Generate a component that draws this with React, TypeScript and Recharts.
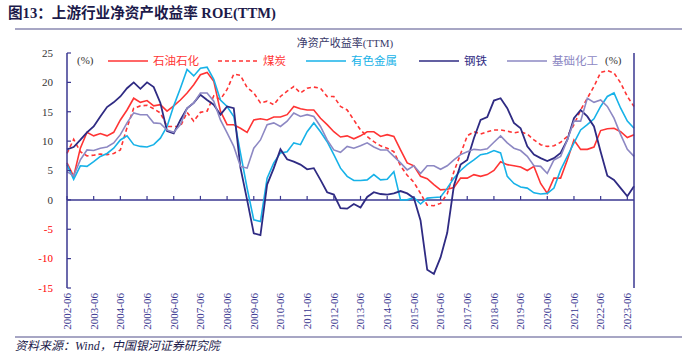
import React from 'react';
import { LineChart, Line, XAxis, YAxis, ReferenceLine } from 'recharts';

const dates = [
  '2002-06','2002-09','2002-12','2003-03','2003-06','2003-09','2003-12','2004-03','2004-06','2004-09',
  '2004-12','2005-03','2005-06','2005-09','2005-12','2006-03','2006-06','2006-09','2006-12','2007-03',
  '2007-06','2007-09','2007-12','2008-03','2008-06','2008-09','2008-12','2009-03','2009-06','2009-09',
  '2009-12','2010-03','2010-06','2010-09','2010-12','2011-03','2011-06','2011-09','2011-12','2012-03',
  '2012-06','2012-09','2012-12','2013-03','2013-06','2013-09','2013-12','2014-03','2014-06','2014-09',
  '2014-12','2015-03','2015-06','2015-09','2015-12','2016-03','2016-06','2016-09','2016-12','2017-03',
  '2017-06','2017-09','2017-12','2018-03','2018-06','2018-09','2018-12','2019-03','2019-06','2019-09',
  '2019-12','2020-03','2020-06','2020-09','2020-12','2021-03','2021-06','2021-09','2021-12','2022-03',
  '2022-06','2022-09','2022-12','2023-03','2023-06','2023-09',
];

const yearTicks = [
  '2002-06','2003-06','2004-06','2005-06','2006-06','2007-06','2008-06','2009-06','2010-06','2011-06',
  '2012-06','2013-06','2014-06','2015-06','2016-06','2017-06','2018-06','2019-06','2020-06','2021-06',
  '2022-06','2023-06',
];

const yTicks = [-15, -10, -5, 0, 5, 10, 15, 20, 25];

// 石油石化
const petrochem = [
  6.3, 4.0, 8.8, 11.5, 10.9, 11.3, 10.9, 11.5, 13.6, 15.3,
  17.3, 16.6, 16.9, 16.0, 16.2, 15.1, 16.0, 17.0, 18.2, 19.6,
  21.3, 21.7, 20.2, 15.1, 12.8, 12.8, 12.2, 11.5, 13.6, 13.8,
  13.6, 14.1, 14.1, 14.5, 15.9, 15.5, 15.3, 15.3, 13.9, 12.8,
  11.6, 10.7, 10.9, 10.4, 10.9, 11.6, 11.6, 10.8, 11.1, 10.8,
  8.5, 6.3, 5.8, 4.0, 3.6, 2.6, 1.7, 1.8, 2.1, 3.7,
  3.7, 4.3, 4.0, 4.3, 5.0, 6.5, 6.0, 5.8, 5.6, 5.0,
  5.7, 2.8, 1.1, 3.7, 3.7, 6.8, 10.2, 8.6, 8.6, 9.0,
  11.8, 12.1, 12.2, 11.6, 10.6, 11.1,
];

// 煤炭
const coal = [
  7.9, 10.3, 8.2, 7.5, 7.6, 7.8, 7.7, 7.9, 8.5, 12.3,
  15.6, 16.0, 16.1, 15.5, 14.8, 12.5, 12.5, 12.5, 14.9, 13.4,
  14.9, 15.1, 17.7, 17.1, 18.8, 21.4, 21.2, 19.1, 18.2, 16.5,
  16.8, 16.2, 17.6, 18.5, 19.3, 18.2, 19.0, 19.2, 19.0, 17.6,
  17.6, 15.9, 15.3, 13.6, 11.9, 10.8, 9.9, 9.2, 8.8, 8.2,
  5.8, 4.2, 3.0, 1.1, -0.9, -1.0, -0.6, 1.0, 4.8, 7.8,
  10.9, 11.6, 11.2, 11.6, 11.9, 11.9, 11.7, 11.4, 11.6, 11.2,
  10.2, 9.4, 9.1, 9.2, 9.8, 10.8, 12.8, 15.3, 17.3, 19.3,
  21.7, 22.0, 21.6, 19.9, 17.6, 15.9,
];

// 有色金属
const nonferrous = [
  6.0, 3.5, 5.8, 5.7, 6.5, 7.4, 7.9, 8.8, 10.2, 10.9,
  9.4, 9.1, 9.0, 9.4, 10.5, 12.5, 16.0, 19.0, 22.2, 21.1,
  22.4, 22.6, 20.5, 17.0, 15.9, 14.2, 8.0, 2.0, -3.4, -3.7,
  3.7, 6.3, 8.0, 8.2, 9.7, 9.4, 11.6, 13.1, 11.6, 9.9,
  7.7, 5.4, 4.0, 3.3, 3.3, 3.4, 4.3, 3.4, 3.5, 4.8,
  0.0, 0.0, 0.4, -0.7, 0.3, 0.4, 0.5, 2.0, 3.7, 5.0,
  6.0, 6.8, 7.7, 7.9, 8.4, 8.0, 4.0, 2.8, 2.2, 2.0,
  1.2, 1.0, 1.1, 2.0, 5.1, 7.4, 9.7, 11.9, 12.8, 13.8,
  15.9, 17.6, 18.2, 15.6, 13.4, 12.2,
];

// 钢铁
const steel = [
  8.6, 9.0, 10.2, 11.5, 12.5, 14.2, 15.8, 16.6, 17.6, 19.0,
  20.0, 18.9, 20.0, 19.2, 16.5, 11.7, 11.3, 13.6, 15.6, 16.5,
  17.9, 17.0, 16.2, 14.5, 15.9, 15.6, 5.5, 0.0, -5.7, -6.0,
  2.6, 5.4, 8.6, 6.9, 6.5, 6.0, 5.2, 5.4, 3.4, 1.3,
  0.9, -1.4, -1.5, -0.7, -1.3, 0.5, 1.3, 1.0, 0.9, 1.1,
  1.5, 1.1, 0.3, -3.5, -11.9, -12.6, -9.8, -5.6, 2.4, 6.0,
  6.8, 10.5, 13.6, 14.1, 16.9, 17.3, 15.6, 13.1, 12.2, 9.1,
  7.7, 7.1, 6.6, 7.1, 8.0, 10.2, 13.9, 15.3, 14.2, 12.5,
  8.2, 4.1, 3.4, 2.0, 0.6, 2.3,
];

// 基础化工
const chemicals = [
  4.8, 4.1, 6.8, 8.5, 8.4, 8.8, 9.0, 9.7, 11.1, 13.1,
  14.8, 14.5, 14.5, 13.1, 13.0, 11.9, 11.5, 12.8, 15.6, 16.5,
  18.2, 18.2, 16.8, 13.6, 11.4, 9.1, 5.7, 5.4, 8.8, 10.2,
  12.8, 13.1, 12.5, 13.4, 14.8, 14.2, 14.5, 14.2, 12.5, 10.2,
  8.5, 8.1, 9.1, 8.8, 9.2, 9.7, 9.0, 8.5, 8.5, 7.4,
  6.3, 5.1, 5.8, 4.5, 5.8, 5.8, 5.2, 5.8, 6.8, 7.7,
  8.2, 8.6, 8.5, 8.7, 9.8, 10.9, 9.7, 8.8, 8.4, 7.4,
  5.8, 5.7, 4.5, 6.8, 7.4, 10.2, 13.4, 13.4, 17.3, 16.6,
  17.0, 15.9, 13.9, 11.1, 8.6, 7.4,
];

const data = dates.map((d, i) => ({
  date: d,
  petrochem: petrochem[i],
  coal: coal[i],
  nonferrous: nonferrous[i],
  steel: steel[i],
  chemicals: chemicals[i],
}));

const W = 682;
const H = 352;
const PLOT_LEFT = 67;
const PLOT_RIGHT = 634;
const PLOT_TOP = 53;
const PLOT_BOTTOM = 288;
const Y_MIN = -15;
const Y_MAX = 25;
const ZERO_Y = PLOT_TOP + ((Y_MAX - 0) / (Y_MAX - Y_MIN)) * (PLOT_BOTTOM - PLOT_TOP);

const AXIS = '#3A3790';
const RED = '#FF3434';
const CYAN = '#17B2E8';
const NAVY = '#2F2B83';
const PURPLE = '#8D88C3';
const SERIF = "'Liberation Serif', 'Times New Roman', 'Noto Sans CJK SC', serif";
const CJK = "'Liberation Serif', 'Noto Sans CJK SC', serif";

const LeftTick = (props: any) => {
  const { y, payload } = props;
  const v = payload.value;
  return (
    <g>
      <line x1={PLOT_LEFT} x2={PLOT_LEFT + 4} y1={y} y2={y} stroke={AXIS} strokeWidth={1.2} />
      <text x={PLOT_LEFT - 14} y={y} dy="0.35em" textAnchor="end" fontFamily={SERIF} fontSize={11}
        fill={v < 0 ? '#FF0000' : '#333333'}>{v}</text>
    </g>
  );
};

const RightTick = (props: any) => {
  const { y, payload } = props;
  const v = payload.value;
  return (
    <g>
      <line x1={PLOT_RIGHT} x2={PLOT_RIGHT - 4} y1={y} y2={y} stroke={AXIS} strokeWidth={1.2} />
      <text x={PLOT_RIGHT + 13} y={y} dy="0.35em" textAnchor="start" fontFamily={SERIF} fontSize={11}
        fill={v < 0 ? '#FF0000' : '#333333'}>{v}</text>
    </g>
  );
};

const BottomTick = (props: any) => {
  const { x, payload } = props;
  const ty = PLOT_BOTTOM + 5;
  return (
    <g>
      <line x1={x} x2={x} y1={ZERO_Y} y2={ZERO_Y - 4} stroke={AXIS} strokeWidth={1.2} />
      <text x={x} y={ty} dy="0.35em" textAnchor="end" transform={`rotate(-90, ${x}, ${ty})`}
        fontFamily={SERIF} fontSize={11} fill="#3A3790">{payload.value}</text>
    </g>
  );
};

const legendItems = [
  { label: '石油石化', color: RED, dash: undefined as string | undefined, x: 108 },
  { label: '煤炭', color: RED, dash: '4 3', x: 218 },
  { label: '有色金属', color: CYAN, dash: undefined, x: 306 },
  { label: '钢铁', color: NAVY, dash: undefined, x: 419 },
  { label: '基础化工', color: PURPLE, dash: undefined, x: 507 },
];

export default function App() {
  return (
    <div style={{ position: 'absolute', left: 0, top: 0, width: W, height: H, background: '#fff' }}>
      <div style={{ position: 'absolute', left: 0, top: 0 }}>
        <LineChart width={W} height={H} data={data}
          margin={{ top: PLOT_TOP, right: W - PLOT_RIGHT - 30, bottom: H - PLOT_BOTTOM - 50, left: PLOT_LEFT - 30 }}>
          <XAxis dataKey="date" ticks={yearTicks} interval={0} height={50} axisLine={false}
            tickLine={false} tick={<BottomTick />} />
          <YAxis yAxisId="left" domain={[Y_MIN, Y_MAX]} ticks={yTicks} width={30}
            axisLine={{ stroke: AXIS, strokeWidth: 1.5 }} tickLine={false} tick={<LeftTick />} />
          <YAxis yAxisId="right" orientation="right" domain={[Y_MIN, Y_MAX]} ticks={yTicks} width={30}
            axisLine={{ stroke: AXIS, strokeWidth: 1.5 }} tickLine={false} tick={<RightTick />} />
          <ReferenceLine yAxisId="left" y={0} stroke={AXIS} strokeWidth={1.5} />
          <Line yAxisId="left" type="linear" dataKey="petrochem" stroke={RED} strokeWidth={1.6} dot={false} isAnimationActive={false} />
          <Line yAxisId="left" type="linear" dataKey="coal" stroke={RED} strokeWidth={1.6} strokeDasharray="4 3" dot={false} isAnimationActive={false} />
          <Line yAxisId="left" type="linear" dataKey="nonferrous" stroke={CYAN} strokeWidth={1.6} dot={false} isAnimationActive={false} />
          <Line yAxisId="left" type="linear" dataKey="steel" stroke={NAVY} strokeWidth={1.8} dot={false} isAnimationActive={false} />
          <Line yAxisId="left" type="linear" dataKey="chemicals" stroke={PURPLE} strokeWidth={1.6} dot={false} isAnimationActive={false} />
        </LineChart>
      </div>
      <svg width={W} height={H} style={{ position: 'absolute', left: 0, top: 0, pointerEvents: 'none' }}>
        <text x={8} y={18} fontFamily={CJK} fontSize={14.6} fontWeight="bold" fill="#1C1A4A">图13：上游行业净资产收益率 ROE(TTM)</text>
        <line x1={15} x2={682} y1={29} y2={29} stroke="#8A88B0" strokeWidth={1.5} />
        <text x={345} y={47} textAnchor="middle" fontFamily={CJK} fontSize={11} fill="#3A3A6A">净资产收益率(TTM)</text>
        <text x={77} y={64} fontFamily={SERIF} fontSize={11} fill="#333333">(%)</text>
        <text x={605} y={64} fontFamily={SERIF} fontSize={11} fill="#333333">(%)</text>
        {legendItems.map((it) => (
          <g key={it.label}>
            <line x1={it.x} x2={it.x + 40} y1={61} y2={61} stroke={it.color} strokeWidth={1.6} strokeDasharray={it.dash} />
            <text x={it.x + 45} y={65} fontFamily={CJK} fontSize={11.5} fill={it.color}>{it.label}</text>
          </g>
        ))}
        <line x1={15} x2={682} y1={337} y2={337} stroke="#8A88B0" strokeWidth={1.5} />
        <text x={15} y={350} fontFamily={CJK} fontSize={12} fontStyle="italic" fill="#1C1A4A">资料来源：Wind，中国银河证券研究院</text>
      </svg>
    </div>
  );
}
